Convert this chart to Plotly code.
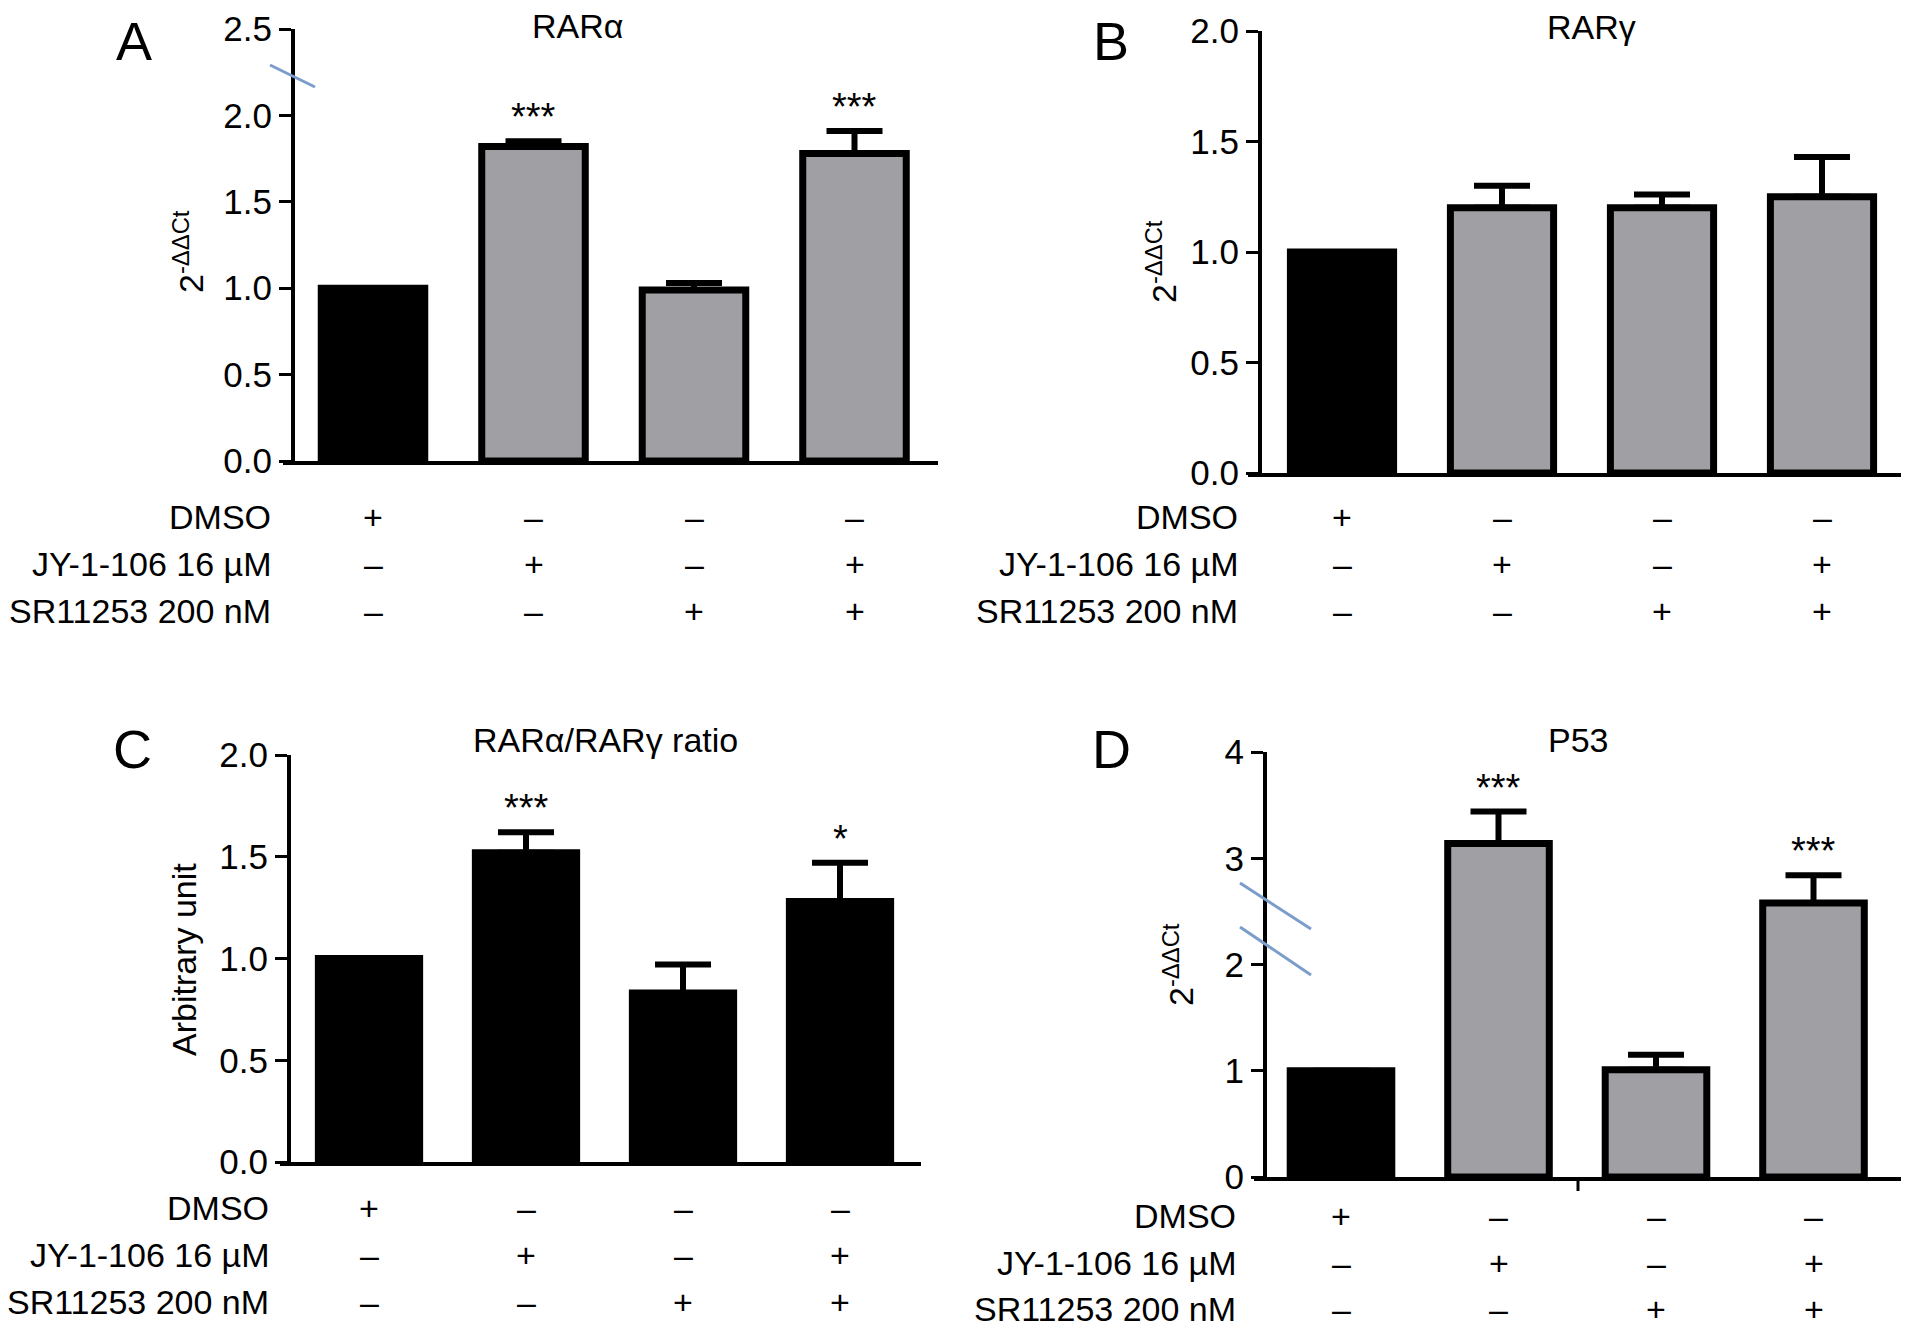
import plotly.graph_objects as go

W, H = 1913, 1333
OFF = 8  # the page body adds an 8 px margin round the plot

# ---- values ----
conditions = [0, 1, 2, 3]
row_names = ["DMSO", "JY-1-106 16 µM", "SR11253 200 nM"]
dmso_row = ["+", "–", "–", "–"]
jy_row = ["–", "+", "–", "+"]
sr_row = ["–", "–", "+", "+"]

rara = [1.00, 1.82, 0.99, 1.78]
rara_sem = [0.0, 0.03, 0.04, 0.13]
rara_stars = ["", "***", "", "***"]

rarg = [1.00, 1.20, 1.20, 1.25]
rarg_sem = [0.0, 0.10, 0.06, 0.18]
rarg_stars = ["", "", "", ""]

ratio = [1.00, 1.52, 0.83, 1.28]
ratio_sem = [0.0, 0.10, 0.14, 0.19]
ratio_stars = ["", "***", "", "*"]

p53 = [1.00, 3.14, 1.01, 2.58]
p53_sem = [0.0, 0.30, 0.14, 0.26]
p53_stars = ["", "***", "", "***"]

GRAY = "#a0a0a4"
FONT = "Liberation Sans, Arial, Helvetica, sans-serif"


def px(x):
    return (x - OFF) / W


def py(y):
    return 1 - (y - OFF) / H


# pixel geometry of each panel (x-axis start/end, y-axis x, top/bottom, first bar centre, spacing)
panels = [
    dict(letter="A", title="RARα", ytitle="2<sup>-ΔΔCt</sup>", vals=rara, err=rara_sem, stars=rara_stars,
         colors=["black", GRAY, GRAY, GRAY], yr=[0, 2.5], dtick=0.5, fmt=".1f",
         x0=283, x1=938, yx=293, top=29, bot=461, c0=373, sp=160.5,
         title_xy=(577, 26), letter_xy=(134, 41), ytitle_xy=(188, 252), lab_x=273, rows=(517, 564, 611)),
    dict(letter="B", title="RARγ", ytitle="2<sup>-ΔΔCt</sup>", vals=rarg, err=rarg_sem, stars=rarg_stars,
         colors=["black", GRAY, GRAY, GRAY], yr=[0, 2.0], dtick=0.5, fmt=".1f",
         x0=1248, x1=1901, yx=1260, top=31, bot=473, c0=1342, sp=160,
         title_xy=(1591, 27), letter_xy=(1111, 41), ytitle_xy=(1162, 262), lab_x=1240, rows=(517, 564, 611)),
    dict(letter="C", title="RARα/RARγ ratio", ytitle="Arbitrary unit", vals=ratio, err=ratio_sem, stars=ratio_stars,
         colors=["black"] * 4, yr=[0, 2.0], dtick=0.5, fmt=".1f",
         x0=280, x1=921, yx=289, top=755, bot=1162, c0=369, sp=157,
         title_xy=(605, 740), letter_xy=(132, 749), ytitle_xy=(184, 960), lab_x=271, rows=(1208, 1255, 1302)),
    dict(letter="D", title="P53", ytitle="2<sup>-ΔΔCt</sup>", vals=p53, err=p53_sem, stars=p53_stars,
         colors=["black", GRAY, GRAY, GRAY], yr=[0, 4], dtick=1, fmt="d",
         x0=1254, x1=1901, yx=1265, top=752, bot=1177, c0=1341, sp=157.5,
         title_xy=(1578, 740), letter_xy=(1111, 749), ytitle_xy=(1178, 965), lab_x=1238, rows=(1216, 1263, 1309)),
]

fig = go.Figure()
annotations = []
layout = {}

for i, p in enumerate(panels, start=1):
    xa = "x" if i == 1 else f"x{i}"
    ya = "y" if i == 1 else f"y{i}"
    xkey = "xaxis" if i == 1 else f"xaxis{i}"
    ykey = "yaxis" if i == 1 else f"yaxis{i}"

    fig.add_trace(go.Bar(
        x=conditions, y=p["vals"], width=0.645, xaxis=xa, yaxis=ya,
        marker=dict(color=p["colors"], line=dict(color="black", width=7)),
        error_y=dict(type="data", array=p["err"], arrayminus=[0] * 4, symmetric=False,
                     color="black", thickness=6, width=28),
        hoverinfo="skip",
    ))

    layout[xkey] = dict(
        domain=[px(p["x0"]), px(p["x1"])],
        range=[(p["x0"] - p["c0"]) / p["sp"], (p["x1"] - p["c0"]) / p["sp"]],
        anchor=ya, showline=True, linecolor="black", linewidth=4,
        showticklabels=False, ticks="", showgrid=False, zeroline=False, automargin=False,
    )
    layout[ykey] = dict(
        domain=[py(p["bot"]), py(p["top"])], range=p["yr"],
        anchor="free", position=px(p["yx"]),
        showline=True, linecolor="black", linewidth=4,
        ticks="outside", ticklen=12, tickwidth=3, tickcolor="black",
        dtick=p["dtick"], tickformat=p["fmt"], tick0=0,
        tickfont=dict(family=FONT, size=35, color="black"),
        showgrid=False, zeroline=False, automargin=False,
    )

    # significance stars
    for c, v, e, s in zip(conditions, p["vals"], p["err"], p["stars"]):
        if s:
            annotations.append(dict(x=c, y=v + e, xref=xa, yref=ya, text=s, showarrow=False,
                                    yanchor="middle", yshift=24,
                                    font=dict(family=FONT, size=38, color="black")))

    # treatment table under the bars
    for row_y, name, signs in zip(p["rows"], row_names, [dmso_row, jy_row, sr_row]):
        annotations.append(dict(x=px(p["lab_x"]), y=py(row_y), xref="paper", yref="paper",
                                text=name, showarrow=False, xanchor="right", yanchor="middle",
                                font=dict(family=FONT, size=34, color="black")))
        for c, s in zip(conditions, signs):
            annotations.append(dict(x=c, y=py(row_y), xref=xa, yref="paper", text=s,
                                    showarrow=False, xanchor="center", yanchor="middle",
                                    font=dict(family=FONT, size=34, color="black")))

    tx, ty = p["title_xy"]
    annotations.append(dict(x=px(tx), y=py(ty), xref="paper", yref="paper", text=p["title"],
                            showarrow=False, xanchor="center", yanchor="middle",
                            font=dict(family=FONT, size=34, color="black")))
    lx, ly = p["letter_xy"]
    annotations.append(dict(x=px(lx), y=py(ly), xref="paper", yref="paper", text=p["letter"],
                            showarrow=False, xanchor="center", yanchor="middle",
                            font=dict(family=FONT, size=54, color="black")))
    yx, yy = p["ytitle_xy"]
    annotations.append(dict(x=px(yx), y=py(yy), xref="paper", yref="paper", text=p["ytitle"],
                            showarrow=False, xanchor="center", yanchor="middle", textangle=-90,
                            font=dict(family=FONT, size=34, color="black")))

# blue axis-break marks and the stray tick in panel D
BLUE = "#7b9dcb"
shapes = [
    dict(type="line", xref="paper", yref="paper", x0=px(270), y0=py(65), x1=px(315), y1=py(87),
         line=dict(color=BLUE, width=3)),
    dict(type="line", xref="paper", yref="paper", x0=px(1240), y0=py(883), x1=px(1311), y1=py(929),
         line=dict(color=BLUE, width=3)),
    dict(type="line", xref="paper", yref="paper", x0=px(1240), y0=py(927), x1=px(1311), y1=py(975),
         line=dict(color=BLUE, width=3)),
    dict(type="line", xref="paper", yref="paper", x0=px(1578), y0=py(1179), x1=px(1578), y1=py(1191),
         line=dict(color="black", width=3)),
]

fig.update_layout(
    width=W, height=H, margin=dict(l=0, r=0, t=0, b=0, pad=0, autoexpand=False),
    paper_bgcolor="white", plot_bgcolor="white", showlegend=False,
    annotations=annotations, shapes=shapes, **layout,
)

fig.write_html("out.html")
